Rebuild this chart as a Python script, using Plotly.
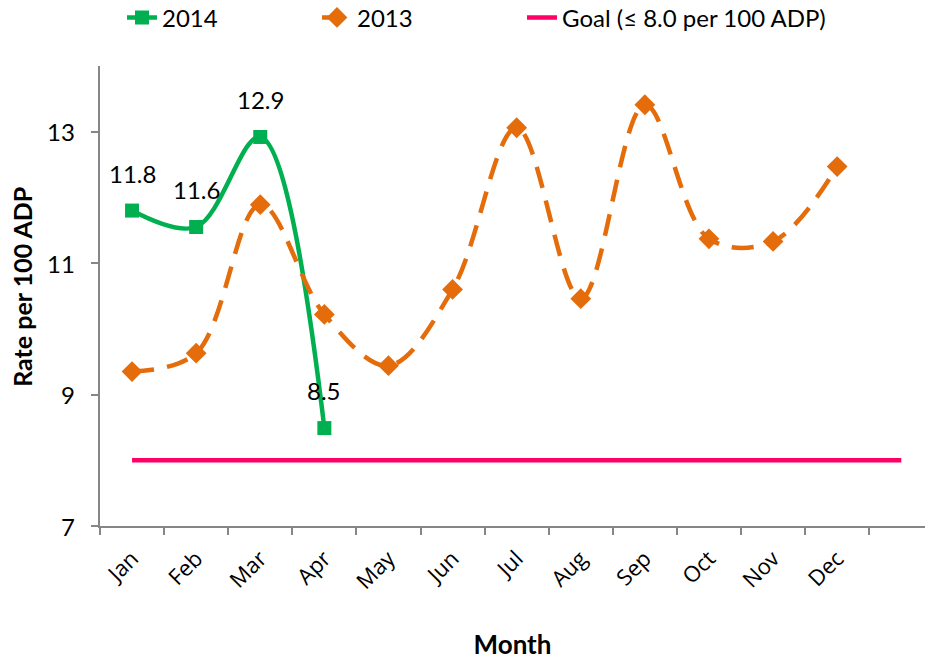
import plotly.graph_objects as go

months = ["Jan", "Feb", "Mar", "Apr", "May", "Jun", "Jul", "Aug", "Sep", "Oct", "Nov", "Dec", " "]
rate_2014 = [11.8, 11.55, 12.92, 8.49]
labels_2014 = ["11.8", "11.6", "12.9", "8.5"]
rate_2013 = [9.35, 9.63, 11.89, 10.22, 9.44, 10.6, 13.06, 10.46, 13.41, 11.37, 11.33, 12.47]
goal = [8.0] * 13
y_ticks = [7, 9, 11, 13]

FONT = "Lato, Carlito, sans-serif"

fig = go.Figure()
fig.add_trace(go.Scatter(
    x=months[:4], y=rate_2014, name="2014", mode="lines+markers", legend="legend",
    line=dict(color="#00B050", width=4.5, shape="spline", smoothing=1),
    marker=dict(symbol="square", size=14, color="#00B050"),
))
fig.add_trace(go.Scatter(
    x=months[:12], y=rate_2013, name="2013", mode="lines+markers", legend="legend2",
    line=dict(color="#E46C0A", width=4.5, dash="22px,13px", shape="spline", smoothing=1),
    marker=dict(symbol="diamond", size=16, color="#E46C0A"),
))
fig.add_trace(go.Scatter(
    x=months, y=goal, name="Goal (≤ 8.0 per 100 ADP)", mode="lines", legend="legend3",
    line=dict(color="#FF0066", width=4.5),
))

for m, v, t in zip(months[:4], rate_2014, labels_2014):
    fig.add_annotation(x=m, y=v, text=t, showarrow=False, yanchor="bottom",
                       yshift=21, font=dict(family=FONT, size=24, color="#000000"))

# y tick labels (placed a little further from the axis than Plotly's default)
for v in y_ticks:
    fig.add_annotation(text=str(v), xref="paper", yref="y", x=(77 - 100) / 825, y=v,
                       xanchor="right", yanchor="middle", showarrow=False,
                       font=dict(family=FONT, size=24, color="#000000"))

# y-axis title
fig.add_annotation(text="<b>Rate per 100 ADP</b>", xref="paper", yref="paper",
                   x=(22 - 100) / 825, y=0.52, xanchor="center", yanchor="middle",
                   textangle=-90, showarrow=False,
                   font=dict(family=FONT, size=25, color="#000000"))

def leg(xpx):
    return dict(orientation="h", xref="container", yref="container",
                x=xpx / 925, xanchor="left", y=0.973, yanchor="middle",
                font=dict(size=24), bgcolor="rgba(0,0,0,0)")

fig.update_layout(
    width=925, height=661,
    margin=dict(l=100, r=0, t=66, b=135),
    paper_bgcolor="white", plot_bgcolor="white",
    font=dict(family=FONT, size=20, color="#000000"),
    showlegend=True,
    legend=leg(122), legend2=leg(317), legend3=leg(522),
    xaxis=dict(
        type="category", categoryorder="array", categoryarray=months,
        range=[-0.5, 12.37], tickson="boundaries",
        showline=True, linecolor="#868686", linewidth=2,
        ticks="outside", ticklen=7, tickcolor="#868686", tickwidth=2,
        tickangle=-45, tickfont=dict(family="Open Sans, DejaVu Sans, sans-serif", size=22),
        ticklabelstandoff=9,
        showgrid=False, zeroline=False,
        title=dict(text="<b>Month</b>", font=dict(size=26), standoff=42),
    ),
    yaxis=dict(
        range=[7, 14], tickvals=y_ticks, showticklabels=False,
        showline=True, linecolor="#868686", linewidth=2,
        ticks="outside", ticklen=7, tickcolor="#868686", tickwidth=2,
        showgrid=False, zeroline=False,
    ),
)

fig.write_html("out.html")
